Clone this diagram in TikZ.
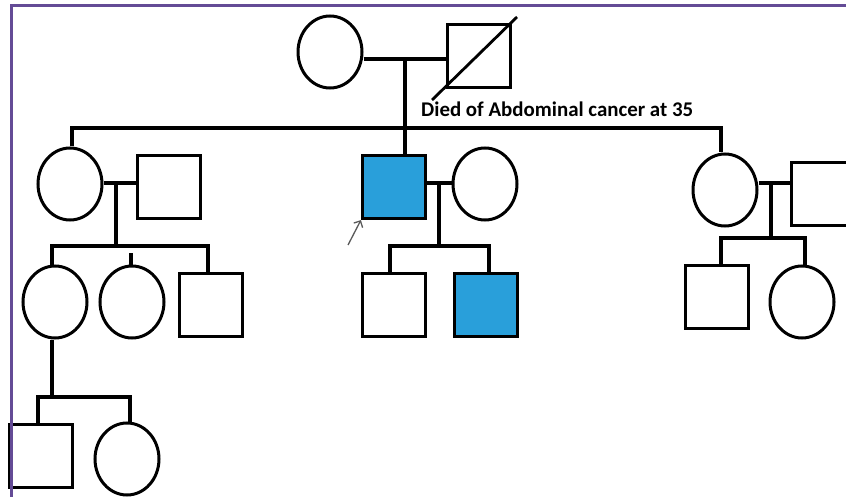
\documentclass[tikz,border=0pt]{standalone}
\usepackage{fontspec}
\newfontfamily\labfont[BoldFont={Carlito Bold}]{Carlito}
\usetikzlibrary{shapes.geometric,arrows.meta}
\definecolor{affblue}{RGB}{41,159,218}
\definecolor{frameclr}{RGB}{100,75,150}
\tikzset{
  fem/.style={ellipse,draw,line width=3pt,minimum width=64pt,minimum height=72pt,inner sep=0pt},
  mal/.style={rectangle,draw,line width=3.2pt,minimum width=63pt,minimum height=63pt,inner sep=0pt},
  aff/.style={mal,fill=affblue},
  conn/.style={draw=black,line width=3.8pt},
}
\begin{document}
\begin{tikzpicture}[x=1pt,y=-1pt]
\useasboundingbox (0,0) rectangle (846,497);
\begin{scope}
\clip (0,0) rectangle (846,497);
% Generation I
\node[fem] (gIf) at (330,52) {};
\node[mal] (gIm) at (479,56) {};
\coordinate (dA) at (432,100);
\coordinate (dB) at (517,17);
\draw[line width=2.8pt] (dA) -- (dB);
\node[anchor=base west,inner sep=0pt,font=\labfont\bfseries\fontsize{20.9}{22}\selectfont] (lab) at (421,117) {Died of Abdominal cancer at 35};
\coordinate (m1) at (405,59);
\coordinate (sib1) at (405,128);
\path[conn] (gIf.east |- m1) -- (gIm.west |- m1);
\path[conn] (m1) -- (sib1);
% Generation II
\node[fem] (IIa) at (70,184) {};
\node[mal] (IIb) at (169,187) {};
\node[aff] (IIc) at (394,187) {};
\node[fem] (IId) at (485,184) {};
\node[fem] (IIe) at (725,190) {};
\node[mal] (IIf) at (823,194) {};
\coordinate (t1) at (72,128);
\coordinate (t2) at (721,128);
\path[conn] (IIa.north -| t1) -- (t1) -- (t2) -- (IIe.north -| t2);
\path[conn] (sib1) -- (IIc.north -| sib1);
% Family left
\coordinate (m2) at (116,183);
\coordinate (sib2) at (116,246);
\path[conn] (IIa.east |- m2) -- (IIb.west |- m2);
\path[conn] (m2) -- (sib2);
\node[fem] (IIIa) at (55,302) {};
\node[fem] (IIIb) at (132,302) {};
\node[mal] (IIIc) at (211,305) {};
\coordinate (t3) at (52,246);
\coordinate (t4) at (208,246);
\coordinate (t5) at (131,253);
\path[conn] (IIIa.north -| t3) -- (t3) -- (t4) -- (IIIc.north -| t4);
\path[conn] (IIIb.north -| t5) -- (t5);
% Family middle
\coordinate (m3) at (439,183);
\coordinate (sib3) at (439,246);
\path[conn] (IIc.east |- m3) -- (IId.west |- m3);
\path[conn] (m3) -- (sib3);
\node[mal] (IIIe) at (394,305) {};
\node[aff] (IIIf) at (486,305) {};
\coordinate (t6) at (390,246);
\coordinate (t7) at (489,246);
\path[conn] (IIIe.north -| t6) -- (t6) -- (t7) -- (IIIf.north -| t7);
\coordinate (arT) at (348,245);
\draw[-{Straight Barb[length=5pt]},line width=1.3pt,gray!70!black] (arT) -- (IIc.south west);
% Family right
\coordinate (m4) at (771,183);
\coordinate (sib4) at (771,238);
\path[conn] (IIe.east |- m4) -- (IIf.west |- m4);
\path[conn] (m4) -- (sib4);
\node[mal] (IIIg) at (717,297) {};
\node[fem] (IIIh) at (802,302) {};
\coordinate (t8) at (721,238);
\coordinate (t9) at (805,238);
\path[conn] (IIIg.north -| t8) -- (t8) -- (t9) -- (IIIh.north -| t9);
% Generation IV
\coordinate (sib5) at (52,397);
\coordinate (t10) at (38,397);
\coordinate (t11) at (130,397);
\path[conn] (IIIa.south -| sib5) -- (sib5);
\node[mal] (IVa) at (41,456) {};
\node[fem] (IVb) at (127,459) {};
\path[conn] (IVa.north -| t10) -- (t10) -- (t11) -- (IVb.north -| t11);
% frame
\draw[frameclr,line width=3pt] (11.5,497) -- (11.5,5.5) -- (846,5.5);
\end{scope}
\end{tikzpicture}
\end{document}
